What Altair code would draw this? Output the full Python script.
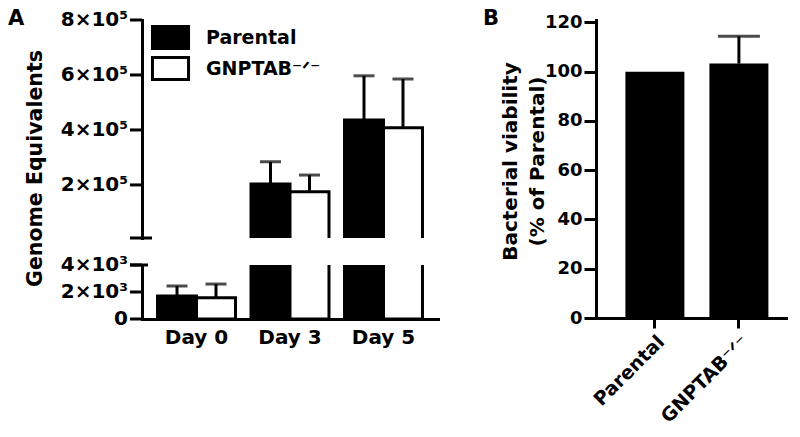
import altair as alt
import pandas as pd

FONT = "DejaVu Sans"

# ---- Panel A data ----
days = ["Day 0", "Day 3", "Day 5"]
groups = ["Parental", "GNPTAB⁻ᐟ⁻"]
parental_mean = [1700, 203000, 436000]
parental_upper = [2440, 284000, 597000]
gnptab_mean = [1580, 175000, 408000]
gnptab_upper = [2590, 236000, 585000]
upper_ticks = [200000, 400000, 600000, 800000]
upper_tick_labels = ["2×10⁵", "4×10⁵", "6×10⁵", "8×10⁵"]
lower_ticks = [0, 2000, 4000]
lower_tick_labels = ["0", "2×10³", "4×10³"]

# ---- Panel B data ----
cells = ["Parental", "GNPTAB⁻ᐟ⁻"]
viability = [100, 103.3]
viability_upper = [100, 114.4]

rows = []
for i, d in enumerate(days):
    rows.append({"day": d, "group": groups[0], "mean": parental_mean[i], "upper": parental_upper[i]})
    rows.append({"day": d, "group": groups[1], "mean": gnptab_mean[i], "upper": gnptab_upper[i]})
dfA = pd.DataFrame(rows)
dfB = pd.DataFrame({"cell": cells, "val": viability, "upper": viability_upper})
dfB["err"] = dfB["upper"] - dfB["val"]

axis_common = dict(
    grid=False, domainColor="black", domainWidth=3, domainCap="square",
    tickColor="black", tickWidth=3, labelColor="black", labelOverlap=False,
    labelFont=FONT, labelFontWeight="bold", titleFont=FONT, titleFontWeight="bold",
    titleColor="black",
)

A_W = 296
UP_H = 218
LO_H = 54

xA = alt.X("day:N", sort=days,
           scale=alt.Scale(domain=days, paddingInner=0.166, paddingOuter=0.166))
xoff = alt.XOffset("group:N", sort=groups, scale=alt.Scale(domain=groups))
fill_scale = alt.Scale(domain=groups, range=["black", "white"])


def panelA_segment(domain, height, ticks, tick_labels, y_title, x_axis, legend,
                   cap_y, cap_x2, upper_seg, extra=None):
    base = alt.Chart(dfA)
    if upper_seg:
        base = base.transform_filter(f"datum.mean > {domain[0]}")
    yscale = alt.Scale(domain=domain, nice=False, zero=False)
    y_axis = alt.Axis(values=ticks, labels=False, ticks=False, **y_title, **axis_common)
    bars = base.mark_bar(clip=True, stroke="black", strokeWidth=3).encode(
        x=xA.axis(x_axis) if x_axis is not None else xA.axis(None),
        xOffset=xoff,
        y=alt.Y("mean:Q", scale=yscale, axis=y_axis),
        fill=alt.Fill("group:N", scale=fill_scale, legend=legend),
    )
    err = base.mark_rule(clip=True, color="black", strokeWidth=3).encode(
        x=xA, xOffset=xoff, y=alt.Y("mean:Q", axis=y_axis), y2="upper:Q"
    )
    cap = base.mark_tick(clip=True, color="black", thickness=3, size=21).encode(
        x=xA, xOffset=xoff, y=alt.Y("upper:Q", axis=y_axis)
    )
    tdf = pd.DataFrame({"v": ticks, "lab": tick_labels})
    tick_rules = alt.Chart(tdf).mark_rule(color="black", strokeWidth=3).encode(
        y=alt.Y("v:Q", axis=y_axis), x=alt.value(-12), x2=alt.value(0)
    )
    tick_text = alt.Chart(tdf).mark_text(
        align="right", baseline="middle", font=FONT, fontSize=20, fontWeight="bold",
        color="black", dx=-14
    ).encode(y=alt.Y("v:Q", axis=y_axis), x=alt.value(0), text="lab:N")
    brk = alt.Chart(pd.DataFrame({"k": [0]})).mark_rule(color="black", strokeWidth=3).encode(
        y=alt.datum(cap_y), x=alt.value(-12), x2=alt.value(cap_x2)
    )
    layers = [bars, err, cap, tick_rules, tick_text, brk]
    if extra is not None:
        layers.append(extra)
    return alt.layer(*layers).properties(width=A_W, height=height)


upper_title = dict(title="Genome Equivalents", titleX=-107, titleY=148, titleAngle=270,
                   titleAlign="center", titleBaseline="middle", titleFontSize=20.5)
lower_title = dict(title=None)
lower_x_axis = alt.Axis(title=None, ticks=False, labelAngle=0, labelFontSize=20,
                        labelPadding=8, **axis_common)

legendA = alt.Legend(
    orient="none", legendX=16, legendY=5, title=None, padding=0,
    symbolType="M-1.64,-1H1.64V1H-1.64Z", symbolSize=484, symbolStrokeWidth=3,
    symbolStrokeColor="black", symbolOffset=0,
    labelFont=FONT, labelFontSize=19, labelFontWeight="bold", labelColor="black",
    labelOffset=23, rowPadding=-4,
)

label_A = alt.Chart(pd.DataFrame({"t": ["A"]})).mark_text(
    align="left", baseline="top", font=FONT, fontSize=21, fontWeight="bold", color="black"
).encode(text="t:N", x=alt.value(-134), y=alt.value(-12))

upper = panelA_segment([7000, 800000], UP_H, upper_ticks, upper_tick_labels, upper_title,
                       None, legendA, 7000, 10, True, extra=label_A)
lower = panelA_segment([0, 4000], LO_H, lower_ticks, lower_tick_labels, lower_title,
                       lower_x_axis, None, 4000, 6, False)

panelA = alt.vconcat(upper, lower, spacing=27, bounds="flush").resolve_scale(
    y="independent", fill="independent"
).resolve_legend(fill="independent")

# ---- Panel B ----
xB = alt.X("cell:N", sort=cells,
           scale=alt.Scale(paddingInner=0.298, paddingOuter=0.2917, align=0.6),
           axis=alt.Axis(title=None, labelAngle=315, labelFontSize=19, tickSize=10,
                         labelPadding=4, **axis_common))
yscaleB = alt.Scale(domain=[0, 121], nice=False)
axisB = alt.Axis(
    values=[0, 20, 40, 60, 80, 100, 120], title=["Bacterial viability", "(% of Parental)"],
    titleX=-86, titleY=141, titleAngle=270, titleAlign="center", titleBaseline="middle",
    titleFontSize=20, titleLineHeight=27, labelFontSize=18, tickSize=12, labelPadding=2,
    **axis_common)
baseB = alt.Chart(dfB)
barsB = baseB.mark_bar(color="black").encode(
    x=xB, y=alt.Y("val:Q", scale=yscaleB, axis=axisB),
)
errB = baseB.transform_filter("datum.err > 0").mark_rule(color="black", strokeWidth=3).encode(
    x=xB, y=alt.Y("val:Q", axis=axisB), y2="upper:Q"
)
capB = baseB.transform_filter("datum.err > 0").mark_tick(color="black", thickness=3, size=42).encode(
    x=xB, y=alt.Y("upper:Q", axis=axisB)
)
label_B = alt.Chart(pd.DataFrame({"t": ["B"]})).mark_text(
    align="left", baseline="top", font=FONT, fontSize=21, fontWeight="bold", color="black"
).encode(text="t:N", x=alt.value(-113), y=alt.value(-12))

panelB = alt.layer(barsB, errB, capB, label_B).properties(width=192, height=298)

chart = alt.hconcat(panelA, panelB, spacing=454, bounds="flush").resolve_scale(
    y="independent", x="independent", fill="independent"
).configure(padding=0, background="white").configure_view(stroke=None).configure_axis(
    labelOverlap=False
)

chart.save("out.html", embed_options={"renderer": "svg", "actions": False})
